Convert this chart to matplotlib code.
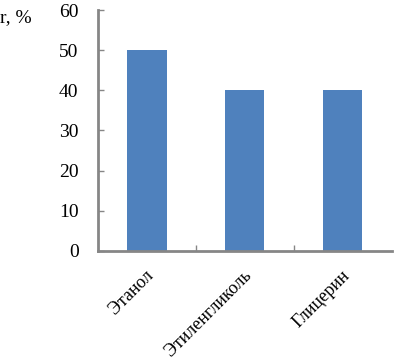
import matplotlib
matplotlib.use("Agg")
import matplotlib.pyplot as plt

categories = ["Этанол", "Этиленгликоль", "Глицерин"]
values = [50, 40, 40]
yticks = [0, 10, 20, 30, 40, 50, 60]

plt.rcParams['font.family'] = ['Liberation Serif', 'DejaVu Serif']

fig = plt.figure(figsize=(3.95, 3.59), dpi=100)
ax = fig.add_axes([0.248, 0.301, 0.744, 0.671])
x = range(len(categories))
ax.bar(x, values, width=0.4, color='#4F81BD')
ax.set_xlim(-0.5, len(categories) - 0.5)
ax.set_ylim(0, 60)
ax.set_yticks(yticks)
ax.set_yticklabels([str(v) for v in yticks], fontsize=14)
ax.set_xticks([0.5, 1.5])
ax.set_xticklabels([])
ax.tick_params(axis='x', direction='in', length=4, color='#868686', width=1)
ax.tick_params(axis='y', direction='in', length=4, color='#868686', width=1, pad=14)
for i, c in enumerate(categories):
    ax.text(i - 0.02, -4, c, rotation=45, ha='right', va='top',
            rotation_mode='anchor', fontsize=13, transform=ax.transData)
for s in ['top', 'right']:
    ax.spines[s].set_visible(False)
for s in ['left', 'bottom']:
    ax.spines[s].set_color('#868686')
    ax.spines[s].set_linewidth(2)
fig.text(0.0, 0.95, "r, %", fontsize=14, ha='left', va='center')
fig.savefig("out.png", dpi=100)
